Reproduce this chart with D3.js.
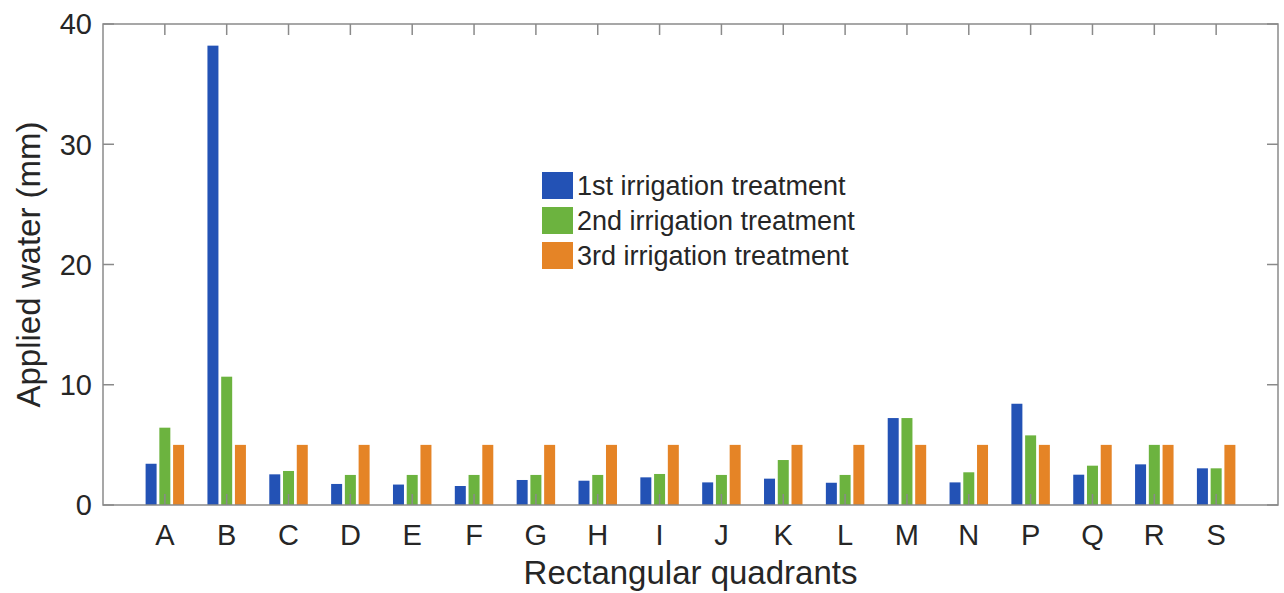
<!DOCTYPE html>
<html>
<head>
<meta charset="utf-8">
<script src="https://cdn.jsdelivr.net/npm/d3@7"></script>
<style>
  body { margin: 0; background: #fff; }
  text { font-family: "Liberation Sans", Arial, sans-serif; fill: #262626; }
</style>
</head>
<body>
<div id="vis"></div>
<script>
const width = 1284;
const height = 593;

const quadrants = ["A","B","C","D","E","F","G","H","I","J","K","L","M","N","P","Q","R","S"];
const treatments = ["1st irrigation treatment", "2nd irrigation treatment", "3rd irrigation treatment"];
const first  = [3.43, 38.2, 2.55, 1.75, 1.7, 1.58, 2.08, 2.02, 2.3, 1.88, 2.19, 1.85, 7.23, 1.88, 8.42, 2.52, 3.38, 3.05];
const second = [6.43, 10.67, 2.83, 2.5, 2.5, 2.5, 2.5, 2.5, 2.58, 2.5, 3.74, 2.5, 7.23, 2.72, 5.79, 3.27, 5.0, 3.05];
const third  = [5, 5, 5, 5, 5, 5, 5, 5, 5, 5, 5, 5, 5, 5, 5, 5, 5, 5];
const yTicks = [0, 10, 20, 30, 40];
const colors = ["#2352b5", "#6cb33f", "#e58426"];

const series = [first, second, third];

const svg = d3.select("#vis")
  .append("svg")
  .attr("width", width)
  .attr("height", height);

const plotLeft = 103, plotRight = 1278, plotTop = 24, plotBottom = 505;

// positions 1..18, box spans 0..19 like matlab
const x = d3.scaleLinear().domain([0, quadrants.length + 1]).range([plotLeft, plotRight]);
const y = d3.scaleLinear().domain([0, 40]).range([plotBottom, plotTop]);

const unit = x(1) - x(0);
const groupWidth = Math.min(0.8, 3 / (3 + 1.5));
const slot = groupWidth / 3;
const barW = slot * 0.8 * unit;

series.forEach((vals, s) => {
  svg.append("g")
    .selectAll("rect")
    .data(vals)
    .enter()
    .append("rect")
    .attr("x", (d, i) => x(i + 1 + (s - 1) * slot) - barW / 2)
    .attr("y", d => y(d))
    .attr("width", barW)
    .attr("height", d => y(0) - y(d))
    .attr("fill", colors[s]);
});

// box
const axisColor = "#8a8a8a";
svg.append("rect")
  .attr("x", plotLeft)
  .attr("y", plotTop)
  .attr("width", plotRight - plotLeft)
  .attr("height", plotBottom - plotTop)
  .attr("fill", "none")
  .attr("stroke", axisColor)
  .attr("stroke-width", 1.5);

const tickLen = 11;

// y ticks, both sides, inward
yTicks.forEach(t => {
  svg.append("line")
    .attr("x1", plotLeft).attr("x2", plotLeft + tickLen)
    .attr("y1", y(t)).attr("y2", y(t))
    .attr("stroke", axisColor).attr("stroke-width", 1.5);
  svg.append("line")
    .attr("x1", plotRight).attr("x2", plotRight - tickLen)
    .attr("y1", y(t)).attr("y2", y(t))
    .attr("stroke", axisColor).attr("stroke-width", 1.5);
  svg.append("text")
    .attr("x", plotLeft - 11)
    .attr("y", y(t))
    .attr("dy", "0.36em")
    .attr("text-anchor", "end")
    .attr("font-size", "29px")
    .text(t);
});

// x ticks, both sides, inward
quadrants.forEach((q, i) => {
  const px = x(i + 1);
  svg.append("line")
    .attr("x1", px).attr("x2", px)
    .attr("y1", plotBottom).attr("y2", plotBottom - tickLen)
    .attr("stroke", axisColor).attr("stroke-width", 1.5);
  svg.append("line")
    .attr("x1", px).attr("x2", px)
    .attr("y1", plotTop).attr("y2", plotTop + tickLen)
    .attr("stroke", axisColor).attr("stroke-width", 1.5);
  svg.append("text")
    .attr("x", px)
    .attr("y", 545)
    .attr("text-anchor", "middle")
    .attr("font-size", "29px")
    .text(q);
});

svg.append("text")
  .attr("x", (plotLeft + plotRight) / 2)
  .attr("y", 584)
  .attr("text-anchor", "middle")
  .attr("font-size", "33px")
  .text("Rectangular quadrants");

svg.append("text")
  .attr("transform", `translate(40, ${(plotTop + plotBottom) / 2}) rotate(-90)`)
  .attr("text-anchor", "middle")
  .attr("font-size", "33px")
  .text("Applied water (mm)");

// legend
const legend = svg.append("g").attr("transform", "translate(542, 172)");
treatments.forEach((t, i) => {
  legend.append("rect")
    .attr("x", 0)
    .attr("y", i * 35)
    .attr("width", 31)
    .attr("height", 27)
    .attr("fill", colors[i]);
  legend.append("text")
    .attr("x", 35)
    .attr("y", i * 35 + 13.5)
    .attr("dy", "0.36em")
    .attr("font-size", "27px")
    .text(t);
});
</script>
</body>
</html>
